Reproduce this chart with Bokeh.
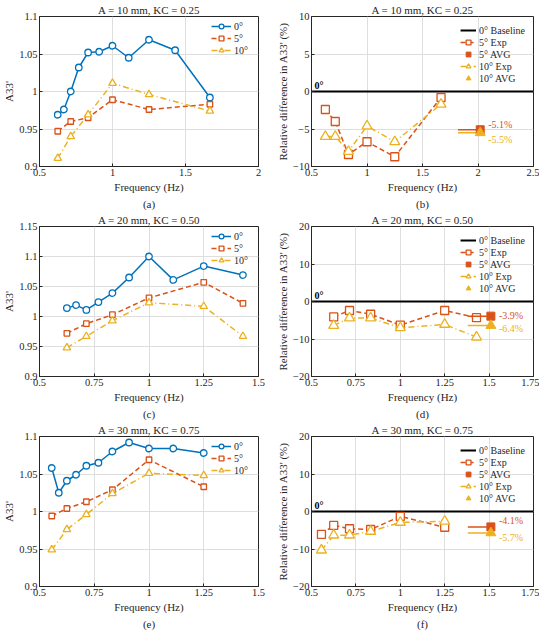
from bokeh.plotting import figure
from bokeh.layouts import gridplot
from bokeh.models import (Title, Legend, LegendItem, Label, Range1d,
                          FixedTicker, CustomJSTickFormatter)
from bokeh.embed import file_html
from bokeh.resources import INLINE

FONT = "Liberation Serif"
BLUE, ORANGE, YELLOW = "#0072BD", "#D95319", "#EDB120"
INK = "#262626"
GRID = "#dedede"

# ---------------- data ----------------
# A = 10 mm, KC = 0.25
f0_10 = [0.625, 0.667, 0.714, 0.769, 0.833, 0.909, 1.0, 1.111, 1.25, 1.429, 1.667]
a0_10 = [0.969, 0.976, 1.000, 1.032, 1.052, 1.053, 1.061, 1.045, 1.069, 1.055, 0.992]
f_10 = [0.625, 0.714, 0.833, 1.0, 1.25, 1.667]
a5_10 = [0.947, 0.960, 0.965, 0.989, 0.976, 0.983]
a10_10 = [0.911, 0.940, 0.969, 1.011, 0.996, 0.974]
rel5_10 = [-2.4, -4.0, -8.4, -6.7, -8.7, -0.8]
rel10_10 = [-6.0, -6.0, -8.0, -4.6, -6.7, -1.7]
avg5_10, avg10_10 = -5.1, -5.5

# A = 20 mm, KC = 0.50
f0_20 = [0.625, 0.667, 0.714, 0.769, 0.833, 0.909, 1.0, 1.111, 1.25, 1.429]
a0_20 = [1.014, 1.019, 1.011, 1.024, 1.039, 1.065, 1.100, 1.061, 1.084, 1.069]
f_20 = [0.625, 0.714, 0.833, 1.0, 1.25, 1.429]
a5_20 = [0.972, 0.988, 1.003, 1.031, 1.057, 1.022]
a10_20 = [0.948, 0.967, 0.993, 1.023, 1.017, 0.967]
rel5_20 = [-4.1, -2.4, -3.4, -6.3, -2.4, -4.3]
rel10_20 = [-6.4, -4.4, -4.4, -7.0, -6.1, -9.5]
avg5_20, avg10_20 = -3.9, -6.4

# A = 30 mm, KC = 0.75
f0_30 = [0.556, 0.588, 0.625, 0.667, 0.714, 0.769, 0.833, 0.909, 1.0, 1.111, 1.25]
a0_30 = [1.058, 1.025, 1.041, 1.049, 1.061, 1.065, 1.080, 1.092, 1.084, 1.084, 1.078]
f_30 = [0.556, 0.625, 0.714, 0.833, 1.0, 1.25]
a5_30 = [0.994, 1.004, 1.013, 1.029, 1.069, 1.033]
a10_30 = [0.949, 0.976, 0.996, 1.024, 1.051, 1.048]
rel5_30 = [-6.1, -3.7, -4.6, -4.8, -1.3, -4.2]
rel10_30 = [-10.3, -6.3, -6.3, -5.3, -2.9, -2.6]
avg5_30, avg10_30 = -4.1, -5.7

titles = ["A = 10 mm, KC = 0.25", "A = 20 mm, KC = 0.50", "A = 30 mm, KC = 0.75"]
captions = ["(a)", "(b)", "(c)", "(d)", "(e)", "(f)"]

FMT = "return tick < 0 ? '\u2212' + String(-tick) : String(tick);"

FH = 150          # frame height
TOP, BOT = 15, 43  # top / bottom borders


def base_style(p, title, caption, xt, yt, ylabel):
    p.title.text = title
    p.title.align = "center"
    p.title.text_font = FONT
    p.title.text_font_size = "11px"
    p.title.text_font_style = "normal"
    p.title.text_color = INK
    p.title.standoff = 2
    p.xaxis.ticker = FixedTicker(ticks=xt)
    p.yaxis.ticker = FixedTicker(ticks=yt)
    p.xaxis.axis_label = "Frequency (Hz)"
    p.yaxis.axis_label = ylabel
    for ax in (p.xaxis[0], p.yaxis[0]):
        ax.formatter = CustomJSTickFormatter(code=FMT)
        ax.major_tick_in = 3
        ax.major_tick_out = 0
        ax.minor_tick_line_color = None
        ax.axis_line_color = INK
        ax.major_tick_line_color = INK
        ax.major_label_text_font = FONT
        ax.major_label_text_font_size = "10.5px"
        ax.major_label_text_color = INK
        ax.axis_label_text_font = FONT
        ax.axis_label_text_font_size = "11px"
        ax.axis_label_text_font_style = "normal"
        ax.axis_label_text_color = INK
        ax.major_label_standoff = 2
        ax.axis_label_standoff = 2
    p.yaxis.axis_label_standoff = 1
    p.xgrid.grid_line_color = GRID
    p.ygrid.grid_line_color = GRID
    p.outline_line_color = INK
    p.outline_line_alpha = 1
    p.add_layout(Title(text=caption, align="center", text_font=FONT,
                       text_font_size="11px", text_font_style="normal",
                       text_color=INK, standoff=1), "below")


def legend(p, items, gw, margin):
    lg = Legend(items=items, location="top_right", border_line_color=None,
                background_fill_alpha=0, label_text_font=FONT,
                label_text_font_size="10px", label_text_color=INK,
                glyph_width=gw, glyph_height=12, label_height=12,
                spacing=0, padding=2, margin=margin, label_standoff=3)
    p.add_layout(lg)


def left_panel(title, caption, xr, yr, xt, yt, f0, a0, f, a5, a10):
    p = figure(frame_width=219, frame_height=FH,
               x_range=Range1d(*xr), y_range=Range1d(*yr),
               output_backend="svg", toolbar_location=None,
               min_border_left=34, min_border_right=14, min_border_top=TOP,
               min_border_bottom=BOT)
    base_style(p, title, caption, xt, yt, "A33'")
    r0l = p.line(f0, a0, line_color=BLUE, line_width=1.5)
    r0m = p.scatter(f0, a0, marker="circle", size=6.5, line_color=BLUE,
                    fill_color="white", line_width=1.3)
    r5l = p.line(f, a5, line_color=ORANGE, line_width=1.5, line_dash="5 3")
    r5m = p.scatter(f, a5, marker="square", size=5.5, line_color=ORANGE,
                    fill_color="white", line_width=1.3)
    r10l = p.line(f, a10, line_color=YELLOW, line_width=1.5, line_dash="6 3 1 3")
    r10m = p.scatter(f, a10, marker="triangle", size=7.5, line_color=YELLOW,
                     fill_color="white", line_width=1.3)
    legend(p, [LegendItem(label="0°", renderers=[r0l, r0m]),
               LegendItem(label="5°", renderers=[r5l, r5m]),
               LegendItem(label="10°", renderers=[r10l, r10m])], 20, 4)
    return p


def right_panel(title, caption, xr, yr, xt, yt, f, r5, r10, avg5, avg10,
                avg_x, seg, dy5, dy10):
    p = figure(frame_width=222, frame_height=FH,
               x_range=Range1d(*xr), y_range=Range1d(*yr),
               output_backend="svg", toolbar_location=None,
               min_border_left=39, min_border_right=6, min_border_top=TOP,
               min_border_bottom=BOT)
    base_style(p, title, caption, xt, yt, "Relative difference in A33' (%)")
    rb = p.line([xr[0], xr[1]], [0, 0], line_color="black", line_width=2)
    p.add_layout(Label(x=xr[0], y=0, x_offset=3, y_offset=1, text="0°",
                       text_font=FONT, text_font_size="10px",
                       text_font_style="bold", text_baseline="bottom",
                       text_color="black"))
    r5l = p.line(f, r5, line_color=ORANGE, line_width=1.5, line_dash="5 3")
    r5m = p.scatter(f, r5, marker="square", size=8, line_color=ORANGE,
                    fill_color="white", line_width=1.3)
    r10l = p.line(f, r10, line_color=YELLOW, line_width=1.5, line_dash="6 3 1 3")
    r10m = p.scatter(f, r10, marker="triangle", size=10, line_color=YELLOW,
                     fill_color="white", line_width=1.3)
    p.line([avg_x - seg, avg_x], [avg5, avg5], line_color=ORANGE, line_width=1.5)
    p.line([avg_x - seg, avg_x], [avg10, avg10], line_color=YELLOW, line_width=1.5)
    a5m = p.scatter([avg_x], [avg5], marker="square", size=8, color=ORANGE)
    a10m = p.scatter([avg_x], [avg10], marker="triangle", size=10, color=YELLOW)
    for v, dy, c in ((avg5, dy5, ORANGE), (avg10, dy10, YELLOW)):
        p.add_layout(Label(x=avg_x, y=v + dy, x_offset=8, text=f"{v:.1f}%",
                           text_font=FONT, text_font_size="10px",
                           text_baseline="middle", text_align="left",
                           text_color=c))
    legend(p, [LegendItem(label="0° Baseline", renderers=[rb]),
               LegendItem(label="5° Exp", renderers=[r5l, r5m]),
               LegendItem(label="5° AVG", renderers=[a5m]),
               LegendItem(label="10° Exp", renderers=[r10l, r10m]),
               LegendItem(label="10° AVG", renderers=[a10m])], 16, 8)
    return p


pa = left_panel(titles[0], captions[0], (0.5, 2), (0.9, 1.1),
                [0.5, 1, 1.5, 2], [0.9, 0.95, 1, 1.05, 1.1],
                f0_10, a0_10, f_10, a5_10, a10_10)
pb = right_panel(titles[0], captions[1], (0.5, 2.5), (-10, 10),
                 [0.5, 1, 1.5, 2, 2.5], [-10, -5, 0, 5, 10],
                 f_10, rel5_10, rel10_10, avg5_10, avg10_10, 2.02, 0.2, 0.7, -0.9)
pc = left_panel(titles[1], captions[2], (0.5, 1.5), (0.9, 1.15),
                [0.5, 0.75, 1, 1.25, 1.5], [0.9, 0.95, 1, 1.05, 1.1, 1.15],
                f0_20, a0_20, f_20, a5_20, a10_20)
pd = right_panel(titles[1], captions[3], (0.5, 1.75), (-20, 20),
                 [0.5, 0.75, 1, 1.25, 1.5, 1.75], [-20, -10, 0, 10, 20],
                 f_20, rel5_20, rel10_20, avg5_20, avg10_20, 1.51, 0.13, 0.2, -0.7)
pe = left_panel(titles[2], captions[4], (0.5, 1.5), (0.9, 1.1),
                [0.5, 0.75, 1, 1.25, 1.5], [0.9, 0.95, 1, 1.05, 1.1],
                f0_30, a0_30, f_30, a5_30, a10_30)
pf = right_panel(titles[2], captions[5], (0.5, 1.75), (-20, 20),
                 [0.5, 0.75, 1, 1.25, 1.5, 1.75], [-20, -10, 0, 10, 20],
                 f_30, rel5_30, rel10_30, avg5_30, avg10_30, 1.51, 0.13, 1.7, -1.1)

grid = gridplot([[pa, pb], [pc, pd], [pe, pf]], toolbar_location=None)

open("out.html", "w").write(file_html(grid, INLINE))
